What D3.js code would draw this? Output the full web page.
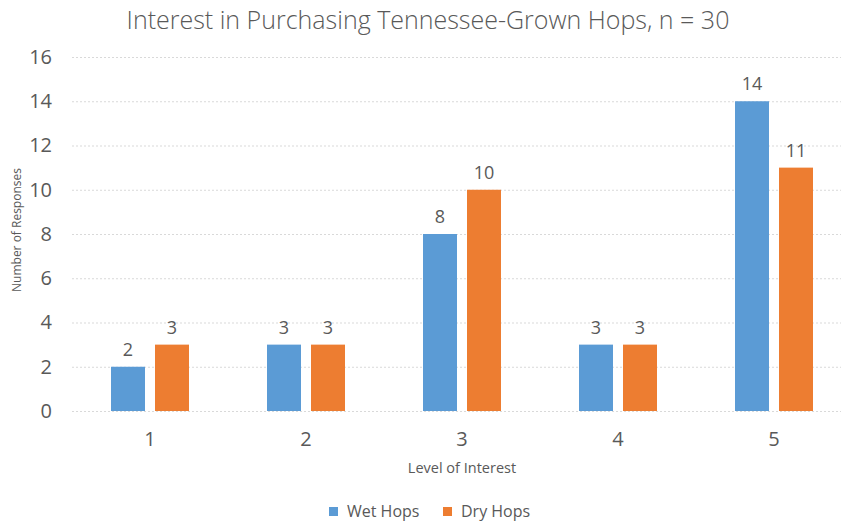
<!DOCTYPE html>
<html><head><meta charset="utf-8">
<script src="https://cdn.jsdelivr.net/npm/d3@7"></script>
<style>body{margin:0;background:#fff}text{font-family:"Open Sans","Noto Sans",sans-serif;fill:#595959}</style>
</head><body><svg id="c" width="841" height="522"></svg>
<script>
const categories = ["1","2","3","4","5"];
const wetHops = [2,3,8,3,14];
const dryHops = [3,3,10,3,11];
const seriesNames = ["Wet Hops","Dry Hops"];
const colors = ["#5B9BD5","#ED7D31"];
const yTicks = [0,2,4,6,8,10,12,14,16];

const svg = d3.select("#c");
const x = d3.scaleBand().domain(categories).range([72,852]).padding(0);
const y = d3.scaleLinear().domain([0,16]).range([411,57]);
const barW = 34, gap = 10;

svg.append("text").attr("x",428).attr("y",29).attr("text-anchor","middle")
  .style("font-size","25px").style("font-weight","300").text("Interest in Purchasing Tennessee-Grown Hops, n = 30");

// grid
svg.append("g").selectAll("line").data(yTicks).join("line")
  .attr("x1",72).attr("x2",852).attr("y1",d=>y(d)+0.5).attr("y2",d=>y(d)+0.5)
  .attr("stroke","#d9d9d9").attr("stroke-dasharray","2,2");

const yAxis = svg.append("g").attr("transform","translate(58,0)")
  .call(d3.axisLeft(y).tickValues(yTicks).tickSize(0).tickPadding(0));
yAxis.select(".domain").remove();
yAxis.selectAll("text").style("font-size","20px").attr("fill","#595959").attr("x",-6);

const xAxis = svg.append("g").attr("transform","translate(0,432)")
  .call(d3.axisBottom(x).tickSize(0).tickPadding(0));
xAxis.select(".domain").remove();
xAxis.selectAll("text").style("font-size","20px").attr("fill","#595959");

const series = [wetHops, dryHops];
series.forEach((vals,si)=>{
  const off = si===0 ? -gap/2-barW : gap/2;
  const g = svg.append("g");
  g.selectAll("rect").data(vals).join("rect")
    .attr("x",(d,i)=>x(categories[i])+x.bandwidth()/2+off)
    .attr("y",d=>y(d)).attr("width",barW).attr("height",d=>y(0)-y(d))
    .attr("fill",colors[si]);
  g.selectAll("text").data(vals).join("text")
    .attr("x",(d,i)=>x(categories[i])+x.bandwidth()/2+off+barW/2)
    .attr("y",d=>y(d)-11).attr("text-anchor","middle")
    .style("font-size","18px").text(d=>d);
});

svg.append("text").attr("x",462).attr("y",473).attr("text-anchor","middle")
  .style("font-size","14.5px").text("Level of Interest");
svg.append("text").attr("transform","translate(21,230) rotate(-90)").attr("text-anchor","middle")
  .style("font-size","12px").text("Number of Responses");

const leg = svg.append("g");
const legX = [329,443];
seriesNames.forEach((n,i)=>{
  leg.append("rect").attr("x",legX[i]).attr("y",507).attr("width",9).attr("height",9).attr("fill",colors[i]);
  leg.append("text").attr("x",legX[i]+18).attr("y",517).style("font-size","16px").text(n);
});
</script></body></html>
